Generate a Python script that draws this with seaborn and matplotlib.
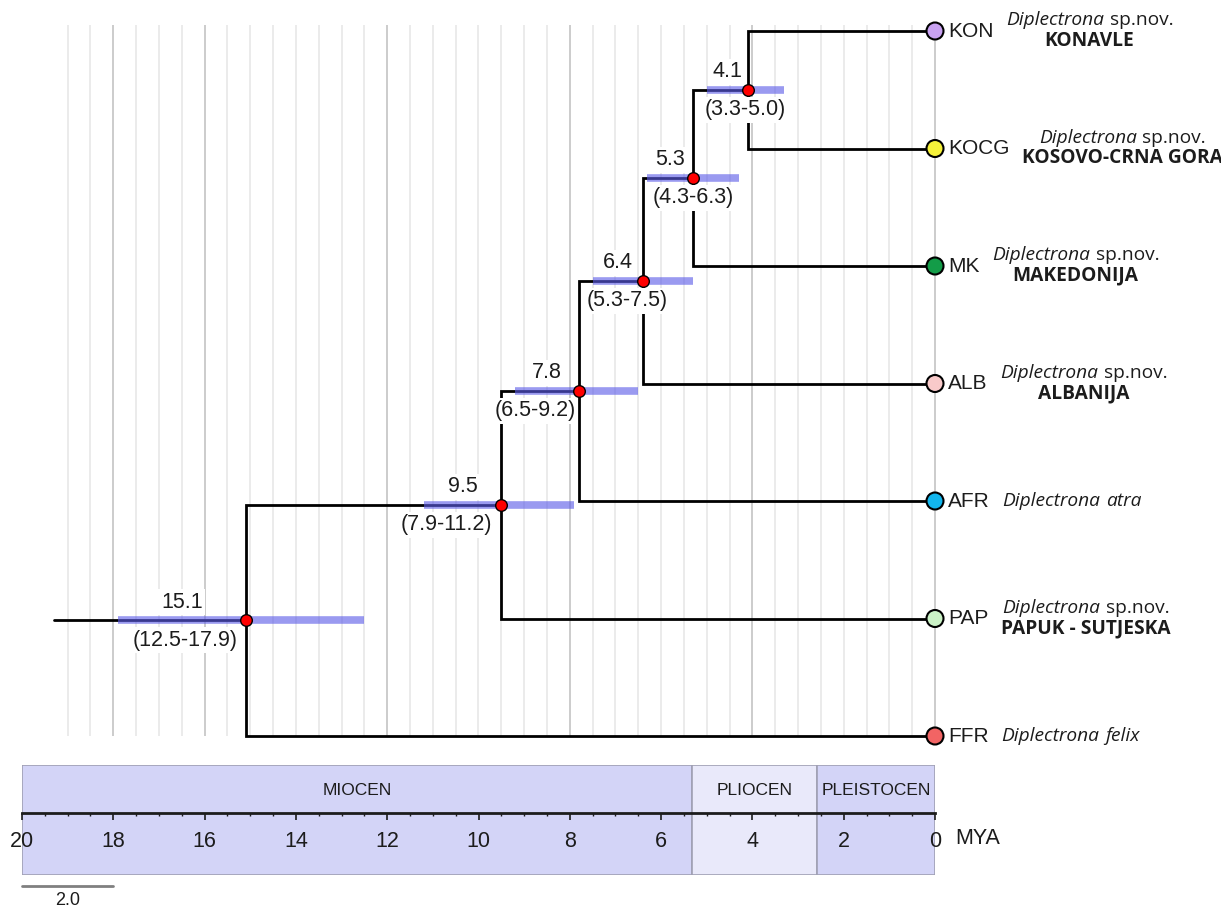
import numpy as np
import pandas as pd
import seaborn as sns
import matplotlib.pyplot as plt
from matplotlib.ticker import MultipleLocator, FormatStrFormatter
from matplotlib.offsetbox import TextArea, HPacker, VPacker, AnnotationBbox

sns.set_theme(style="white")
plt.rcParams['font.family'] = ['Liberation Sans', 'DejaVu Sans']
SP_FONT = ['Open Sans', 'DejaVu Sans']

# tips, top to bottom
tip_codes = ["KON", "KOCG", "MK", "ALB", "AFR", "PAP", "FFR"]
tip_colors = ["#c9a2f2", "#f6f23a", "#139c48", "#f9caca", "#12b6ee", "#cbf2c6", "#f26464"]
genus = ["Diplectrona"] * 7
epithet = ["sp.nov.", "sp.nov.", "sp.nov.", "sp.nov.", "atra", "sp.nov.", "felix"]
locality = ["KONAVLE", "KOSOVO-CRNA GORA", "MAKEDONIJA", "ALBANIJA", "",
            "PAPUK - SUTJESKA", ""]

# internal nodes: age (MYA) and 95% HPD, listed from youngest to root
node_age = [4.1, 5.3, 6.4, 7.8, 9.5, 15.1]
node_lo = [3.3, 4.3, 5.3, 6.5, 7.9, 12.5]
node_hi = [5.0, 6.3, 7.5, 9.2, 11.2, 17.9]
node_children = [("t0", "t1"), ("n0", "t2"), ("n1", "t3"), ("n2", "t4"),
                 ("n3", "t5"), ("n4", "t6")]
root_stem = 19.3

# geological epochs
epoch_names = ["MIOCEN", "PLIOCEN", "PLEISTOCEN"]
epoch_start = [20.0, 5.333, 2.58]
epoch_end = [5.333, 2.58, 0.0]
scale_len = 2.0

# layout (pixels of the 1221x908 picture)
W, H = 1221, 908
PX = 45.65          # pixels per million years
X0 = 935            # pixel of 0 MYA
Y0, DY = 31, 117.5  # first tip row, row spacing
range_shift = [0.05, 0.0, 0.35, 0.96, 1.21, 1.33]
epoch_colors = ["#d3d4f7", "#e9e9fa", "#d3d4f7"]
INK = "#1c1c1c"

fig = plt.figure(figsize=(W / 100, H / 100), dpi=100)
ax = fig.add_axes([0, 0, 1, 1])

# positions of tips and nodes
pos = {f"t{i}": (0.0, float(i)) for i in range(len(tip_codes))}
for k, (a, b) in enumerate(node_children):
    pos[f"n{k}"] = (node_age[k], (pos[a][1] + pos[b][1]) / 2)

# background grid
grid_x = np.arange(0, 19.01, 0.5)
dark = np.isin(grid_x, [18, 16, 12, 8, 4, 0])
ax.vlines(grid_x[~dark], -0.05, 6, color="#e8e8e8", lw=1.2, zorder=1)
ax.vlines(grid_x[dark], -0.05, 6, color="#c8c8c8", lw=1.3, zorder=1)

# branches
for k, kids in enumerate(node_children):
    nx, ny = pos[f"n{k}"]
    for c in kids:
        cx, cy = pos[c]
        ax.plot([nx, nx, cx], [ny, cy, cy], color="black", lw=2,
                solid_joinstyle="miter", solid_capstyle="butt", zorder=3)
root_x, root_y = pos[f"n{len(node_age) - 1}"]
ax.plot([root_stem, root_x], [root_y, root_y], color="black", lw=2, zorder=3)

# HPD bars
node_y = [pos[f"n{k}"][1] for k in range(len(node_age))]
ax.hlines(node_y, node_lo, node_hi, color="#5c5ce8", alpha=0.62, lw=5.5, zorder=4)

# node labels
for k in range(len(node_age)):
    ax.text((node_age[k] + node_hi[k]) / 2, node_y[k] - 18 / DY, f"{node_age[k]:.1f}",
            ha="center", va="center", fontsize=15.5, color=INK, zorder=5,
            bbox=dict(boxstyle="square,pad=0.12", fc="white", ec="none"))
    ax.text(node_age[k] + range_shift[k], node_y[k] + 20 / DY,
            f"({node_lo[k]:.1f}-{node_hi[k]:.1f})",
            ha="center", va="center", fontsize=15.5, color=INK, zorder=5,
            bbox=dict(boxstyle="square,pad=0.12", fc="white", ec="none"))

nodes = pd.DataFrame({"age": node_age, "y": node_y})
sns.scatterplot(data=nodes, x="age", y="y", color="#ff0000", s=70,
                edgecolor="black", linewidth=1, ax=ax, zorder=6, legend=False)

tips = pd.DataFrame({"code": tip_codes, "age": 0.0, "y": np.arange(len(tip_codes))})
sns.scatterplot(data=tips, x="age", y="y", hue="code", palette=tip_colors, s=150,
                edgecolor="black", linewidth=1.5, ax=ax, zorder=6, legend=False,
                clip_on=False)

# tip labels
for i, code in enumerate(tip_codes):
    t = ax.text(-13 / PX, i, code, ha="left", va="center", fontsize=15, color=INK,
                zorder=7)
    sp_style = "normal" if epithet[i] == "sp.nov." else "italic"
    line1 = HPacker(children=[
        TextArea(genus[i], textprops=dict(family=SP_FONT, style="italic", size=13.8,
                                          color=INK)),
        TextArea(epithet[i], textprops=dict(family=SP_FONT, style=sp_style, size=13.8,
                                            color=INK))],
        align="baseline", pad=0, sep=4)
    rows = [line1]
    if locality[i]:
        rows.append(TextArea(locality[i], textprops=dict(family=SP_FONT, weight="bold",
                                                         size=13.8, color=INK)))
    box = VPacker(children=rows, align="center", pad=0, sep=1)
    ab = AnnotationBbox(box, (1, 0.5), xycoords=t, xybox=(9, 0),
                        boxcoords="offset points", box_alignment=(0, 0.5),
                        frameon=False, pad=0)
    ax.add_artist(ab)

ax.set_xlim(X0 / PX, (X0 - W) / PX)
ax.set_ylim((H - Y0) / DY, -Y0 / DY)
ax.set_axis_off()

# time scale
ax_ts = fig.add_axes([(X0 - 20 * PX) / W, (H - 875) / H, 20 * PX / W, 110 / H])
ax_ts.set_xlim(20, 0)
ax_ts.set_ylim(0, 1)
for name, s, e, c in zip(epoch_names, epoch_start, epoch_end, epoch_colors):
    ax_ts.axvspan(e, s, facecolor=c, edgecolor="#a0a0b4", lw=1.2, zorder=0)
    ax_ts.text((s + e) / 2, 0.77, name, ha="center", va="center", fontsize=12.5,
               color=INK)
ax_ts.patch.set_visible(False)
for side in ["top", "left", "right"]:
    ax_ts.spines[side].set_visible(False)
ax_ts.spines["bottom"].set_position(("axes", 0.564))
ax_ts.spines["bottom"].set_linewidth(2)
ax_ts.spines["bottom"].set_color(INK)
ax_ts.xaxis.set_major_locator(MultipleLocator(2))
ax_ts.xaxis.set_minor_locator(MultipleLocator(0.5))
ax_ts.xaxis.set_major_formatter(FormatStrFormatter("%d"))
ax_ts.tick_params(axis="x", which="major", direction="out", length=5, width=1.2,
                  pad=8, labelsize=15.5, colors=INK, bottom=True)
ax_ts.tick_params(axis="x", which="minor", direction="out", length=2.5, width=1,
                  colors=INK, bottom=True)
ax_ts.set_yticks([])
ax_ts.text(-0.45, 0.33, "MYA", ha="left", va="center", fontsize=15.5, color=INK)

# scale bar
ax_ts.plot([20, 20 - scale_len], [-0.1, -0.1], color="#808080", lw=2, clip_on=False)
ax_ts.text(20 - scale_len / 2, -0.23, f"{scale_len:.1f}", ha="center", va="center",
           fontsize=13, color=INK)

fig.savefig("out.png", dpi=100)
